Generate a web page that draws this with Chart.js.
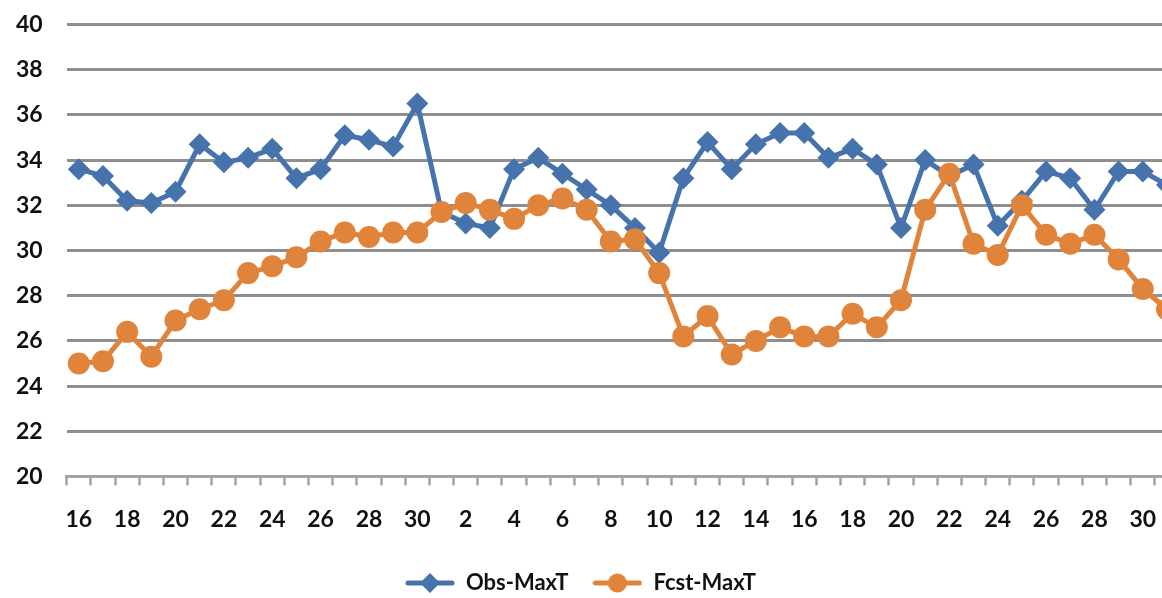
<!DOCTYPE html>
<html>
<head>
<meta charset="utf-8">
<title>Obs-MaxT vs Fcst-MaxT</title>
<script src="https://cdn.jsdelivr.net/npm/chart.js@4/dist/chart.umd.min.js"></script>
<style>
  html, body { margin: 0; padding: 0; background: #fff; overflow: hidden; }
  #wrap { width: 1162px; height: 598px; overflow: hidden; position: relative; }
  canvas { display: block; }
</style>
</head>
<body>
<div id="wrap"><canvas id="chart" width="1187" height="598"></canvas></div>
<script>
// Day of month for each observation (second half of one month, then the whole next month)
const days = ['16','17','18','19','20','21','22','23','24','25','26','27','28','29','30',
              '1','2','3','4','5','6','7','8','9','10','11','12','13','14','15','16',
              '17','18','19','20','21','22','23','24','25','26','27','28','29','30','31'];

// Observed daily maximum temperature
const obsMaxT = [33.6, 33.3, 32.2, 32.1, 32.6, 34.7, 33.9, 34.1, 34.5, 33.2, 33.6, 35.1, 34.9, 34.6, 36.5,
                 31.7, 31.2, 31.0, 33.6, 34.1, 33.4, 32.7, 32.0, 31.0, 29.9, 33.2, 34.8, 33.6, 34.7, 35.2, 35.2,
                 34.1, 34.5, 33.8, 31.0, 34.0, 33.3, 33.8, 31.1, 32.2, 33.5, 33.2, 31.8, 33.5, 33.5, 32.9];

// Forecast daily maximum temperature
const fcstMaxT = [25.0, 25.1, 26.4, 25.3, 26.9, 27.4, 27.8, 29.0, 29.3, 29.7, 30.4, 30.8, 30.6, 30.8, 30.8,
                  31.7, 32.1, 31.8, 31.4, 32.0, 32.3, 31.8, 30.4, 30.5, 29.0, 26.2, 27.1, 25.4, 26.0, 26.6, 26.2,
                  26.2, 27.2, 26.6, 27.8, 31.8, 33.4, 30.3, 29.8, 32.0, 30.7, 30.3, 30.7, 29.6, 28.3, 27.4];

// Value axis range and tick step
const yMin = 20;
const yMax = 40;
const yStep = 2;

const seriesNames = ['Obs-MaxT', 'Fcst-MaxT'];

const BLUE = '#4673ab';
const ORANGE = '#e0843b';
const FONT = 'Lato, "Liberation Sans", sans-serif';
const LEGEND_FONT_SIZE = 22;
const LEGEND_PAD = 24;

// Legend swatch: a short line with the series marker in its middle
function makeSwatch(color, style) {
  const c = document.createElement('canvas');
  c.width = 50; c.height = 22;
  const g = c.getContext('2d');
  g.strokeStyle = color;
  g.lineWidth = 5;
  g.lineCap = 'round';
  g.beginPath(); g.moveTo(3, 11); g.lineTo(47, 11); g.stroke();
  g.fillStyle = color;
  g.beginPath();
  if (style === 'diamond') {
    g.moveTo(25, 1); g.lineTo(35, 11); g.lineTo(25, 21); g.lineTo(15, 11); g.closePath();
  } else {
    g.arc(25, 11, 9.5, 0, Math.PI * 2);
  }
  g.fill();
  return c;
}
const swatches = [makeSwatch(BLUE, 'diamond'), makeSwatch(ORANGE, 'circle')];

// Keep the legend centred on the visible page width and near the bottom edge
const legendPlacer = {
  id: 'legendPlacer',
  afterLayout(chart) {
    const lg = chart.legend;
    if (!lg) return;
    const dx = 580.5 - (lg.left + lg.right) / 2;
    const dy = 583 - (lg.top + LEGEND_PAD + LEGEND_FONT_SIZE / 2);
    lg.left += dx; lg.right += dx;
    lg.top += dy; lg.bottom += dy;
  }
};

new Chart(document.getElementById('chart'), {
  type: 'line',
  data: {
    labels: days,
    datasets: [
      {
        label: seriesNames[0],
        data: obsMaxT,
        order: 1,
        borderColor: BLUE,
        backgroundColor: BLUE,
        borderWidth: 5,
        pointStyle: 'rectRot',
        pointRadius: 11,
        pointBorderWidth: 0,
        pointBackgroundColor: BLUE,
        tension: 0,
        clip: false
      },
      {
        label: seriesNames[1],
        data: fcstMaxT,
        order: 0,
        borderColor: ORANGE,
        backgroundColor: ORANGE,
        borderWidth: 5,
        pointStyle: 'circle',
        pointRadius: 11,
        pointBorderWidth: 0,
        pointBackgroundColor: ORANGE,
        tension: 0,
        clip: false
      }
    ]
  },
  options: {
    responsive: false,
    animation: false,
    devicePixelRatio: 1,
    layout: { autoPadding: false, padding: { left: 0, right: 0, top: 24.5, bottom: 0 } },
    plugins: {
      tooltip: { enabled: false },
      legend: {
        position: 'bottom',
        labels: {
          usePointStyle: true,
          pointStyleWidth: 50,
          padding: LEGEND_PAD,
          color: '#111',
          font: { family: FONT, size: LEGEND_FONT_SIZE, weight: 'bold' },
          sort: (a, b) => a.datasetIndex - b.datasetIndex,
          generateLabels(chart) {
            const items = Chart.defaults.plugins.legend.labels.generateLabels(chart);
            items.forEach(it => { it.pointStyle = swatches[it.datasetIndex]; });
            return items;
          }
        }
      }
    },
    scales: {
      x: {
        type: 'category',
        offset: true,
        afterFit(s) {
          const lgH = s.chart.legend ? s.chart.legend.height : 0;
          s.height = 598 - lgH - 476.5;
        },
        grid: {
          display: true,
          offset: true,
          drawOnChartArea: false,
          drawTicks: true,
          tickLength: 9,
          tickColor: '#a3a3a3',
          tickWidth: 2.5
        },
        border: { display: true, color: '#a3a3a3', width: 3 },
        ticks: {
          autoSkip: false,
          maxRotation: 0,
          minRotation: 0,
          padding: 20,
          color: '#111',
          font: { family: FONT, size: 23, weight: 'bold' },
          callback: (v, i) => (i % 2 === 0 ? days[i] : '')
        }
      },
      y: {
        min: yMin,
        max: yMax,
        afterFit(s) { s.width = 66.7; },
        grid: {
          color: '#8e8e8e',
          lineWidth: 3,
          drawTicks: true,
          tickLength: 24,
          tickColor: 'rgba(0,0,0,0)'
        },
        border: { display: false },
        ticks: {
          stepSize: yStep,
          padding: 0,
          color: '#111',
          font: { family: FONT, size: 23, weight: 'bold' }
        }
      }
    }
  },
  plugins: [legendPlacer]
});
</script>
</body>
</html>
